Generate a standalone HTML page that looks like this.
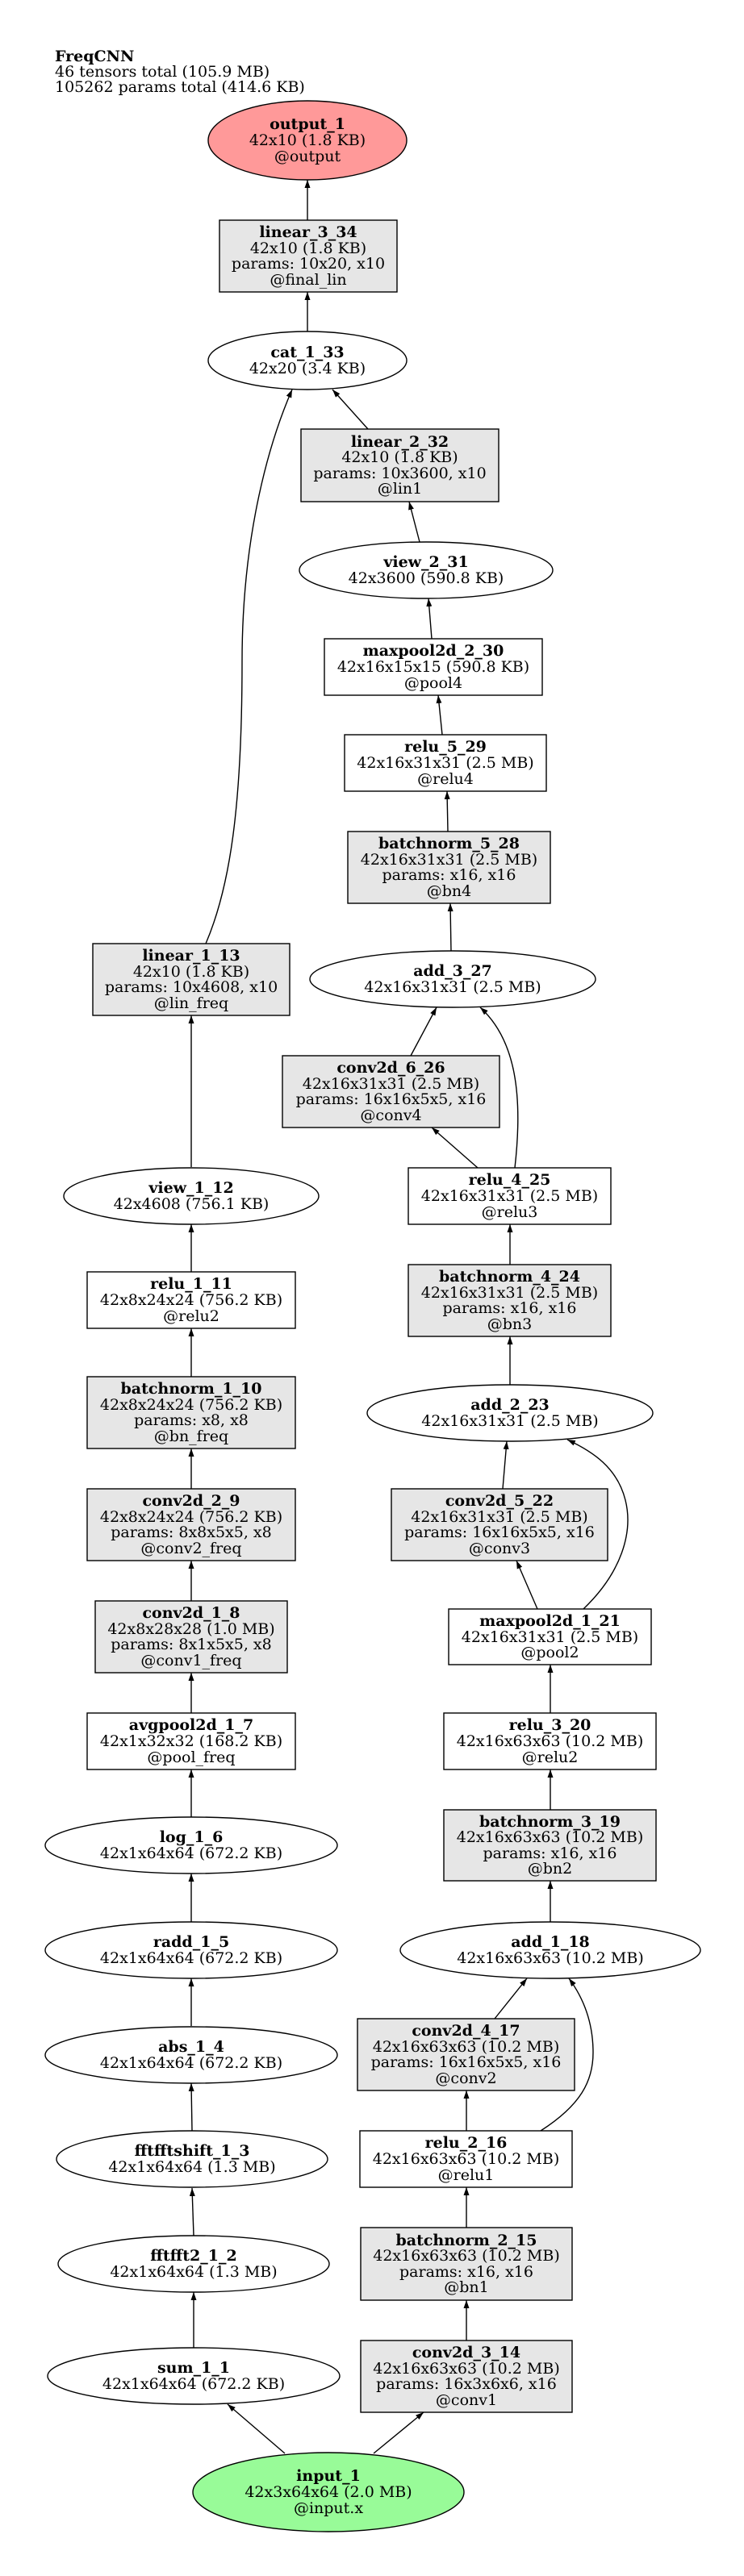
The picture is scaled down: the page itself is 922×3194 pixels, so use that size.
<!DOCTYPE html>
<html><head><meta charset="utf-8"><style>
html,body{margin:0;padding:0;background:#fff}
svg{display:block}
text{font-family:"DejaVu Serif","Liberation Serif",serif;font-size:19px;fill:#000;text-anchor:middle}
.b{font-weight:bold}
.t{text-anchor:start}
.n{stroke:#000;stroke-width:1.4}
.e{stroke:#000;stroke-width:1.4;fill:none}
</style></head><body>
<svg width="922" height="3194" viewBox="0 0 922 3194" xmlns="http://www.w3.org/2000/svg">
<defs><marker id="a" viewBox="0 0 10 7" refX="10" refY="3.5" markerWidth="10" markerHeight="7" markerUnits="userSpaceOnUse" orient="auto"><path d="M0,0 L10,3.5 L0,7 z" fill="#000"/></marker></defs>
<rect width="922" height="3194" fill="#fff"/>
<text class="t b" x="68" y="76">FreqCNN</text>
<text class="t" x="68" y="95">46 tensors total (105.9 MB)</text>
<text class="t" x="68" y="114">105262 params total (414.6 KB)</text>

<g marker-end="url(#a)">
<path class="e" d="M381,273 L381,223"/>
<path class="e" d="M381,412 L381,362"/>
<path class="e" d="M456,532 L412,483"/>
<path class="e" d="M255,1170 C285,1100 300,1000 300,820 C300,660 335,545 362,483"/>
<path class="e" d="M520,672 L507,622"/>
<path class="e" d="M535,792 L531,742"/>
<path class="e" d="M548,911 L543,862"/>
<path class="e" d="M555,1031 L554,981"/>
<path class="e" d="M559,1180 L558,1120"/>
<path class="e" d="M509,1309 L541,1249"/>
<path class="e" d="M592,1448 L535,1398"/>
<path class="e" d="M638,1448 C648,1360 640,1290 595,1249"/>
<path class="e" d="M632,1568 L632,1518"/>
<path class="e" d="M237,1447 L237,1259"/>
<path class="e" d="M237,1577 L237,1518"/>
<path class="e" d="M237,1707 L237,1647"/>
<path class="e" d="M237,1846 L237,1796"/>
<path class="e" d="M237,1985 L237,1935"/>
<path class="e" d="M237,2124 L237,2074"/>
<path class="e" d="M237,2253 L237,2194"/>
<path class="e" d="M237,2383 L237,2323"/>
<path class="e" d="M237,2512 L237,2453"/>
<path class="e" d="M238,2642 L237,2583"/>
<path class="e" d="M240,2772 L238,2713"/>
<path class="e" d="M240,2911 L240,2842"/>
<path class="e" d="M632,1717 L632,1657"/>
<path class="e" d="M623,1846 L628,1787"/>
<path class="e" d="M666,1995 L640,1935"/>
<path class="e" d="M723,1995 C770,1950 785,1900 775,1860 C765,1820 735,1800 703,1785"/>
<path class="e" d="M682,2124 L682,2064"/>
<path class="e" d="M682,2244 L682,2194"/>
<path class="e" d="M682,2383 L682,2332"/>
<path class="e" d="M613,2503 L653,2453"/>
<path class="e" d="M578,2642 L578,2592"/>
<path class="e" d="M670,2642 C720,2610 735,2580 735,2545 C735,2510 725,2480 705,2453"/>
<path class="e" d="M578,2762 L578,2712"/>
<path class="e" d="M578,2902 L578,2852"/>
<path class="e" d="M353,3042 L282,2981"/>
<path class="e" d="M463,3042 L525,2991"/>
</g>

<!-- ellipses -->
<ellipse class="n" cx="381" cy="174" rx="123" ry="49" fill="#ff9999"/>
<text class="b" x="381" y="160">output_1</text><text x="381" y="180">42x10 (1.8 KB)</text><text x="381" y="200">@output</text>
<ellipse class="n" cx="381" cy="447" rx="123" ry="36" fill="#fff"/>
<text class="b" x="381" y="443">cat_1_33</text><text x="381" y="463">42x20 (3.4 KB)</text>
<ellipse class="n" cx="528" cy="707" rx="157" ry="35" fill="#fff"/>
<text class="b" x="528" y="703">view_2_31</text><text x="528" y="723">42x3600 (590.8 KB)</text>
<ellipse class="n" cx="561" cy="1214" rx="177" ry="35" fill="#fff"/>
<text class="b" x="561" y="1210">add_3_27</text><text x="561" y="1230">42x16x31x31 (2.5 MB)</text>
<ellipse class="n" cx="237" cy="1483" rx="158" ry="35" fill="#fff"/>
<text class="b" x="237" y="1479">view_1_12</text><text x="237" y="1499">42x4608 (756.1 KB)</text>
<ellipse class="n" cx="632" cy="1752" rx="177" ry="35" fill="#fff"/>
<text class="b" x="632" y="1748">add_2_23</text><text x="632" y="1768">42x16x31x31 (2.5 MB)</text>
<ellipse class="n" cx="237" cy="2288" rx="181" ry="35" fill="#fff"/>
<text class="b" x="237" y="2284">log_1_6</text><text x="237" y="2304">42x1x64x64 (672.2 KB)</text>
<ellipse class="n" cx="237" cy="2418" rx="181" ry="35" fill="#fff"/>
<text class="b" x="237" y="2414">radd_1_5</text><text x="237" y="2434">42x1x64x64 (672.2 KB)</text>
<ellipse class="n" cx="682" cy="2418" rx="186" ry="35" fill="#fff"/>
<text class="b" x="682" y="2414">add_1_18</text><text x="682" y="2434">42x16x63x63 (10.2 MB)</text>
<ellipse class="n" cx="237" cy="2548" rx="181" ry="35" fill="#fff"/>
<text class="b" x="237" y="2544">abs_1_4</text><text x="237" y="2564">42x1x64x64 (672.2 KB)</text>
<ellipse class="n" cx="238" cy="2677" rx="168" ry="35" fill="#fff"/>
<text class="b" x="238" y="2673">fftfftshift_1_3</text><text x="238" y="2693">42x1x64x64 (1.3 MB)</text>
<ellipse class="n" cx="240" cy="2807" rx="168" ry="35" fill="#fff"/>
<text class="b" x="240" y="2803">fftfft2_1_2</text><text x="240" y="2823">42x1x64x64 (1.3 MB)</text>
<ellipse class="n" cx="240" cy="2946" rx="181" ry="35" fill="#fff"/>
<text class="b" x="240" y="2942">sum_1_1</text><text x="240" y="2962">42x1x64x64 (672.2 KB)</text>
<ellipse class="n" cx="407" cy="3090" rx="168" ry="49" fill="#98fb98"/>
<text class="b" x="407" y="3076">input_1</text><text x="407" y="3096">42x3x64x64 (2.0 MB)</text><text x="407" y="3116">@input.x</text>

<!-- boxes -->
<rect class="n" x="272" y="273" width="220" height="89" fill="#e6e6e6"/>
<text class="b" x="382" y="294">linear_3_34</text><text x="382" y="314">42x10 (1.8 KB)</text><text x="382" y="333">params: 10x20, x10</text><text x="382" y="353">@final_lin</text>

<rect class="n" x="373" y="532" width="245" height="90" fill="#e6e6e6"/>
<text class="b" x="495.5" y="554">linear_2_32</text><text x="495.5" y="573">42x10 (1.8 KB)</text><text x="495.5" y="593">params: 10x3600, x10</text><text x="495.5" y="612">@lin1</text>

<rect class="n" x="402" y="792" width="270" height="70" fill="#fff"/>
<text class="b" x="537" y="813">maxpool2d_2_30</text><text x="537" y="833">42x16x15x15 (590.8 KB)</text><text x="537" y="853">@pool4</text>

<rect class="n" x="427" y="911" width="250" height="70" fill="#fff"/>
<text class="b" x="552" y="932">relu_5_29</text><text x="552" y="952">42x16x31x31 (2.5 MB)</text><text x="552" y="972">@relu4</text>

<rect class="n" x="431" y="1031" width="251" height="89" fill="#e6e6e6"/>
<text class="b" x="556.5" y="1052">batchnorm_5_28</text><text x="556.5" y="1072">42x16x31x31 (2.5 MB)</text><text x="556.5" y="1091">params: x16, x16</text><text x="556.5" y="1111">@bn4</text>

<rect class="n" x="115" y="1170" width="244" height="89" fill="#e6e6e6"/>
<text class="b" x="237" y="1191">linear_1_13</text><text x="237" y="1211">42x10 (1.8 KB)</text><text x="237" y="1230">params: 10x4608, x10</text><text x="237" y="1250">@lin_freq</text>

<rect class="n" x="350" y="1309" width="269" height="89" fill="#e6e6e6"/>
<text class="b" x="484.5" y="1330">conv2d_6_26</text><text x="484.5" y="1350">42x16x31x31 (2.5 MB)</text><text x="484.5" y="1369">params: 16x16x5x5, x16</text><text x="484.5" y="1389">@conv4</text>

<rect class="n" x="506" y="1448" width="251" height="70" fill="#fff"/>
<text class="b" x="631.5" y="1469">relu_4_25</text><text x="631.5" y="1489">42x16x31x31 (2.5 MB)</text><text x="631.5" y="1509">@relu3</text>

<rect class="n" x="506" y="1568" width="251" height="89" fill="#e6e6e6"/>
<text class="b" x="631.5" y="1589">batchnorm_4_24</text><text x="631.5" y="1609">42x16x31x31 (2.5 MB)</text><text x="631.5" y="1628">params: x16, x16</text><text x="631.5" y="1648">@bn3</text>

<rect class="n" x="108" y="1577" width="258" height="70" fill="#fff"/>
<text class="b" x="237" y="1598">relu_1_11</text><text x="237" y="1618">42x8x24x24 (756.2 KB)</text><text x="237" y="1638">@relu2</text>

<rect class="n" x="108" y="1707" width="258" height="89" fill="#e6e6e6"/>
<text class="b" x="237" y="1728">batchnorm_1_10</text><text x="237" y="1748">42x8x24x24 (756.2 KB)</text><text x="237" y="1767">params: x8, x8</text><text x="237" y="1787">@bn_freq</text>

<rect class="n" x="108" y="1846" width="258" height="89" fill="#e6e6e6"/>
<text class="b" x="237" y="1867">conv2d_2_9</text><text x="237" y="1887">42x8x24x24 (756.2 KB)</text><text x="237" y="1906">params: 8x8x5x5, x8</text><text x="237" y="1926">@conv2_freq</text>

<rect class="n" x="485" y="1846" width="268" height="89" fill="#e6e6e6"/>
<text class="b" x="619" y="1867">conv2d_5_22</text><text x="619" y="1887">42x16x31x31 (2.5 MB)</text><text x="619" y="1906">params: 16x16x5x5, x16</text><text x="619" y="1926">@conv3</text>

<rect class="n" x="118" y="1985" width="238" height="89" fill="#e6e6e6"/>
<text class="b" x="237" y="2006">conv2d_1_8</text><text x="237" y="2026">42x8x28x28 (1.0 MB)</text><text x="237" y="2045">params: 8x1x5x5, x8</text><text x="237" y="2065">@conv1_freq</text>

<rect class="n" x="556" y="1995" width="251" height="69" fill="#fff"/>
<text class="b" x="681.5" y="2016">maxpool2d_1_21</text><text x="681.5" y="2036">42x16x31x31 (2.5 MB)</text><text x="681.5" y="2055">@pool2</text>

<rect class="n" x="108" y="2124" width="258" height="70" fill="#fff"/>
<text class="b" x="237" y="2145">avgpool2d_1_7</text><text x="237" y="2165">42x1x32x32 (168.2 KB)</text><text x="237" y="2185">@pool_freq</text>

<rect class="n" x="550" y="2124" width="263" height="70" fill="#fff"/>
<text class="b" x="681.5" y="2145">relu_3_20</text><text x="681.5" y="2165">42x16x63x63 (10.2 MB)</text><text x="681.5" y="2185">@relu2</text>

<rect class="n" x="550" y="2244" width="263" height="88" fill="#e6e6e6"/>
<text class="b" x="681.5" y="2265">batchnorm_3_19</text><text x="681.5" y="2284">42x16x63x63 (10.2 MB)</text><text x="681.5" y="2304">params: x16, x16</text><text x="681.5" y="2323">@bn2</text>

<rect class="n" x="443" y="2503" width="269" height="89" fill="#e6e6e6"/>
<text class="b" x="577.5" y="2524">conv2d_4_17</text><text x="577.5" y="2544">42x16x63x63 (10.2 MB)</text><text x="577.5" y="2563">params: 16x16x5x5, x16</text><text x="577.5" y="2583">@conv2</text>

<rect class="n" x="446" y="2642" width="263" height="70" fill="#fff"/>
<text class="b" x="577.5" y="2663">relu_2_16</text><text x="577.5" y="2683">42x16x63x63 (10.2 MB)</text><text x="577.5" y="2703">@relu1</text>

<rect class="n" x="447" y="2762" width="262" height="90" fill="#e6e6e6"/>
<text class="b" x="578" y="2784">batchnorm_2_15</text><text x="578" y="2803">42x16x63x63 (10.2 MB)</text><text x="578" y="2823">params: x16, x16</text><text x="578" y="2842">@bn1</text>

<rect class="n" x="447" y="2902" width="262" height="89" fill="#e6e6e6"/>
<text class="b" x="578" y="2923">conv2d_3_14</text><text x="578" y="2943">42x16x63x63 (10.2 MB)</text><text x="578" y="2962">params: 16x3x6x6, x16</text><text x="578" y="2982">@conv1</text>
</svg>
</body></html>
